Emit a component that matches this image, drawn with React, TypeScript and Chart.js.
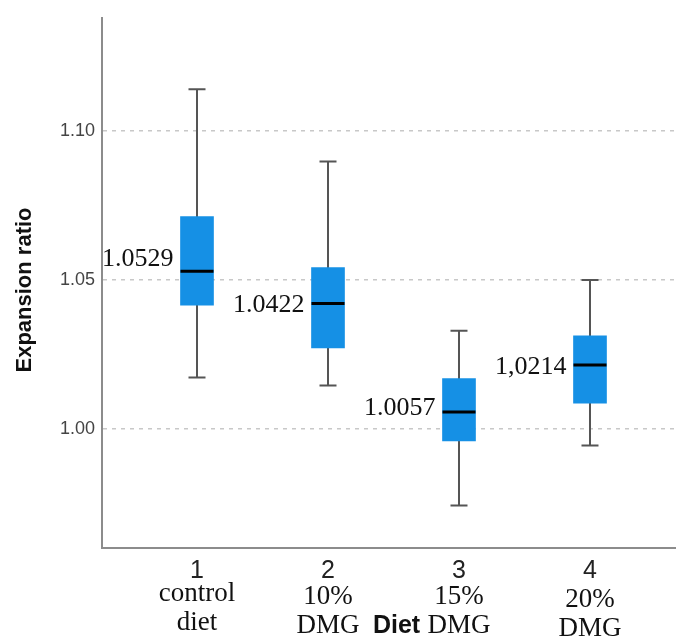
import React, { useEffect, useRef } from "react";
import { Chart, registerables } from "chart.js";

Chart.register(...registerables);

// ---- data ----
const groups = [1, 2, 3, 4];
const tickNumbers = ["1", "2", "3", "4"];
const subLabelTop = ["control", "10%", "15%", "20%"];
const subLabelBottom = ["diet", "DMG", "DMG", "DMG"];
const whiskerLow = [1.0172, 1.0145, 0.9742, 0.9944];
const q1 = [1.0415, 1.0272, 0.9959, 1.0086];
const median = [1.0529, 1.0421, 1.0056, 1.0214];
const q3 = [1.0713, 1.0542, 1.0169, 1.0312];
const whiskerHigh = [1.1141, 1.0898, 1.0329, 1.05];
const medianLabels = ["1.0529", "1.0422", "1.0057", "1,0214"];
const yTicks = [1.0, 1.05, 1.1];
const yTitle = "Expansion ratio";
const xTitle = "Diet";

// ---- styles ----
const BOX_COLOR = "#1590e5";
const WHISKER_COLOR = "#555555";
const AXIS_COLOR = "#8c8c8c";
const GRID_COLOR = "#c8c8c8";
const TEXT_COLOR = "#111111";
const SERIF = '"Liberation Serif", "DejaVu Serif", serif';
const SANS = '"Liberation Sans", Arial, sans-serif';
const CAP_HALF = 8.5;
const subDy = [0, 3, 3, 6];

const boxPlugin = {
  id: "boxWhiskers",
  beforeDatasetsDraw(chart: any) {
    const { ctx, scales } = chart;
    const x = scales.x;
    const y = scales.y;
    ctx.save();
    ctx.strokeStyle = WHISKER_COLOR;
    ctx.lineWidth = 2;
    groups.forEach((g, i) => {
      const px = x.getPixelForValue(g);
      const lo = y.getPixelForValue(whiskerLow[i]);
      const hi = y.getPixelForValue(whiskerHigh[i]);
      ctx.beginPath();
      ctx.moveTo(px, lo);
      ctx.lineTo(px, hi);
      ctx.moveTo(px - CAP_HALF, lo);
      ctx.lineTo(px + CAP_HALF, lo);
      ctx.moveTo(px - CAP_HALF, hi);
      ctx.lineTo(px + CAP_HALF, hi);
      ctx.stroke();
    });
    ctx.restore();
  },
  afterDatasetsDraw(chart: any) {
    const { ctx, scales } = chart;
    const y = scales.y;
    const meta = chart.getDatasetMeta(0);
    ctx.save();
    groups.forEach((g, i) => {
      const bar = meta.data[i];
      const half = bar.width / 2;
      const my = y.getPixelForValue(median[i]);
      ctx.strokeStyle = "#000";
      ctx.lineWidth = 3;
      ctx.beginPath();
      ctx.moveTo(bar.x - half, my);
      ctx.lineTo(bar.x + half, my);
      ctx.stroke();
      const midY = (y.getPixelForValue(q1[i]) + y.getPixelForValue(q3[i])) / 2 - 2;
      ctx.fillStyle = TEXT_COLOR;
      ctx.font = `26px ${SERIF}`;
      ctx.textAlign = "right";
      ctx.textBaseline = "middle";
      ctx.fillText(medianLabels[i], bar.x - half - 7, midY);
    });
    ctx.restore();
  },
  afterDraw(chart: any) {
    const { ctx, scales } = chart;
    const x = scales.x;
    ctx.save();
    ctx.fillStyle = TEXT_COLOR;
    ctx.font = `27px ${SERIF}`;
    ctx.textAlign = "center";
    ctx.textBaseline = "alphabetic";
    groups.forEach((g, i) => {
      const px = x.getPixelForValue(g);
      ctx.fillText(subLabelTop[i], px, 601 + subDy[i]);
      ctx.fillText(subLabelBottom[i], px, 630 + subDy[i]);
    });
    // x title
    ctx.font = `bold 25px ${SANS}`;
    ctx.fillText(xTitle, (x.getPixelForValue(2) + x.getPixelForValue(3)) / 2 + 3, 633);
    // y title
    ctx.translate(25, 290);
    ctx.rotate(-Math.PI / 2);
    ctx.font = `bold 22px ${SANS}`;
    ctx.textBaseline = "middle";
    ctx.fillText(yTitle, 0, 0);
    ctx.restore();
  },
};

export default function App() {
  const ref = useRef<HTMLCanvasElement | null>(null);
  useEffect(() => {
    document.body.style.margin = "0";
    const canvas = ref.current;
    if (!canvas) return;
    const chart = new Chart(canvas, {
      type: "bar",
      data: {
        datasets: [
          {
            data: groups.map((g, i) => ({ x: g, y: [q1[i], q3[i]] })) as any,
            backgroundColor: BOX_COLOR,
            borderWidth: 0,
            barThickness: 33,
          },
        ],
      },
      options: {
        responsive: false,
        animation: false,
        layout: { padding: { top: 10, left: 0, right: 0, bottom: 0 } },
        plugins: { legend: { display: false }, tooltip: { enabled: false } },
        scales: {
          x: {
            type: "linear",
            offset: false,
            min: 0.2748,
            max: 4.6565,
            afterBuildTicks: (s: any) => {
              s.ticks = groups.map((v) => ({ value: v }));
            },
            afterFit: (s: any) => {
              s.height = 89;
            },
            ticks: {
              callback: (_v: any, i: number) => tickNumbers[i],
              font: { family: SANS, size: 25 },
              color: "#222",
              padding: 8,
              autoSkip: false,
              maxRotation: 0,
            },
            grid: { display: false, drawTicks: false, offset: false },
            border: { display: true, color: AXIS_COLOR, width: 2 },
          },
          y: {
            type: "linear",
            min: 0.95993,
            max: 1.1381,
            afterBuildTicks: (s: any) => {
              s.ticks = yTicks.map((v) => ({ value: v }));
            },
            afterFit: (s: any) => {
              s.width = 102;
            },
            ticks: {
              callback: (v: any) => Number(v).toFixed(2),
              font: { family: SANS, size: 18 },
              color: "#444",
              padding: 7,
            },
            grid: { color: GRID_COLOR, lineWidth: 1.5, drawTicks: false },
            border: { display: true, color: AXIS_COLOR, width: 2, dash: [4, 5] },
          },
        },
      } as any,
      plugins: [boxPlugin],
    });
    return () => chart.destroy();
  }, []);
  return (
    <div style={{ width: 676, height: 637 }}>
      <canvas ref={ref} width={676} height={637} style={{ display: "block" }} />
    </div>
  );
}
